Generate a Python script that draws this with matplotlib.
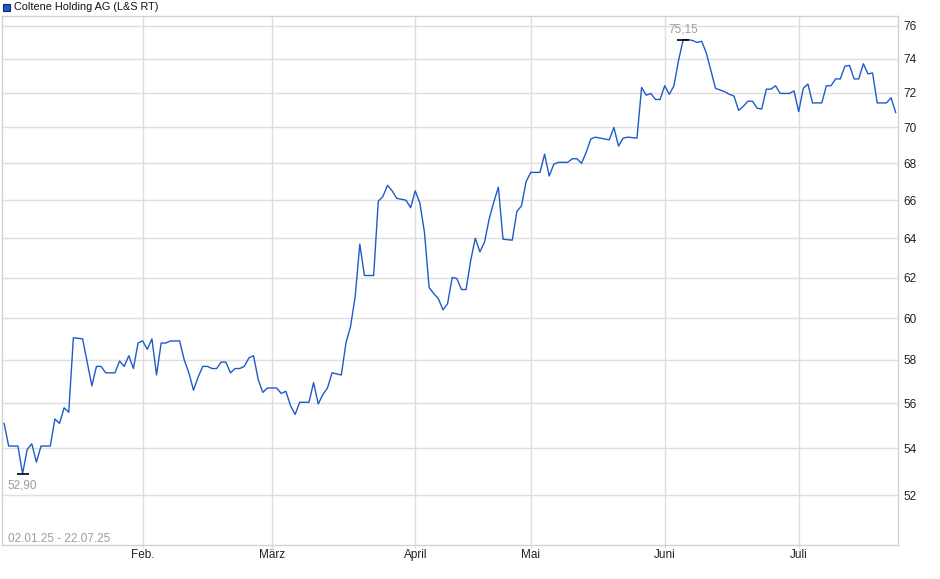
import matplotlib
matplotlib.use("Agg")
import matplotlib.pyplot as plt
from matplotlib.patches import Rectangle
from matplotlib.ticker import FixedLocator, FixedFormatter, NullLocator

# Data: trading session index -> price (EUR)
SESSION = [0, 1, 3, 4, 5, 6, 7, 8, 10, 11, 12, 13, 14, 15, 17, 19, 20, 21, 22, 24,
           25, 26, 27, 28, 29, 30, 31, 32, 33, 34, 35, 36, 38, 39, 40, 41, 42, 43, 44, 45,
           46, 47, 48, 49, 50, 51, 52, 53, 54, 55, 56, 57, 59, 60, 61, 62, 63, 64, 66, 67,
           68, 69, 70, 71, 73, 74, 75, 76, 77, 78, 80, 81, 82, 83, 84, 85, 87, 88, 89, 90,
           91, 92, 93, 94, 95, 96, 97, 98, 99, 100, 101, 102, 103, 104, 105, 106, 107, 108, 110, 111,
           112, 113, 114, 116, 117, 118, 119, 120, 122, 123, 124, 125, 126, 127, 128, 129, 131, 132, 133, 134,
           135, 137, 138, 139, 140, 141, 142, 143, 144, 145, 146, 147, 148, 149, 150, 151, 152, 153, 154, 155,
           156, 157, 158, 159, 160, 161, 162, 163, 164, 165, 166, 167, 168, 170, 171, 172, 173, 174, 175, 177,
           178, 179, 180, 181, 182, 183, 184, 185, 186, 187, 188, 189, 191, 192, 193]
PRICE = [55.10, 54.10, 54.10, 52.90, 53.95, 54.20, 53.40, 54.10, 54.10, 55.30,
         55.10, 55.80, 55.60, 59.05, 59.00, 56.80, 57.70, 57.70, 57.40, 57.40,
         57.95, 57.70, 58.20, 57.60, 58.80, 58.90, 58.50, 59.00, 57.30, 58.80,
         58.80, 58.90, 58.90, 58.00, 57.40, 56.60, 57.20, 57.70, 57.70, 57.60,
         57.60, 57.90, 57.90, 57.40, 57.60, 57.60, 57.70, 58.10, 58.20, 57.10,
         56.50, 56.70, 56.70, 56.45, 56.55, 55.90, 55.50, 56.05, 56.05, 56.95,
         55.97, 56.40, 56.70, 57.40, 57.30, 58.80, 59.60, 61.05, 63.70, 62.10,
         62.10, 65.95, 66.20, 66.80, 66.50, 66.10, 66.00, 65.60, 66.50, 65.85,
         64.30, 61.50, 61.20, 60.95, 60.40, 60.70, 62.00, 61.95, 61.40, 61.40,
         62.85, 64.00, 63.30, 63.80, 65.00, 65.90, 66.70, 63.95, 63.90, 65.40,
         65.70, 67.00, 67.50, 67.50, 68.50, 67.30, 67.95, 68.05, 68.05, 68.25,
         68.25, 68.00, 68.60, 69.35, 69.45, 69.40, 69.30, 70.00, 68.95, 69.40,
         69.45, 69.40, 72.30, 71.85, 71.95, 71.60, 71.60, 72.40, 71.90, 72.40,
         73.90, 75.15, 75.15, 75.10, 74.98, 75.05, 74.35, 73.30, 72.25, 72.15,
         72.05, 71.90, 71.80, 70.97, 71.20, 71.50, 71.50, 71.10, 71.05, 72.20,
         72.20, 72.40, 71.95, 71.95, 72.10, 70.90, 72.25, 72.50, 71.40, 71.40,
         72.40, 72.40, 72.80, 72.80, 73.55, 73.60, 72.80, 72.80, 73.70, 73.10,
         73.15, 71.40, 71.40, 71.70, 70.85]

MONTH_POS = [30, 58, 89, 114, 143, 172]
MONTH_LABELS = ["Feb.", "März", "April", "Mai", "Juni", "Juli"]
Y_TICKS = [52, 54, 56, 58, 60, 62, 64, 66, 68, 70, 72, 74, 76]

TITLE = "Coltene Holding AG (L&S RT)"
DATE_RANGE = "02.01.25 - 22.07.25"

LINE_COLOR = "#1f5bc8"
GRID_COLOR = "#dedede"
GRAY_TEXT = "#a09d96"

plt.rcParams["font.family"] = ["Liberation Sans", "DejaVu Sans"]

fig = plt.figure(figsize=(9.4, 5.79), dpi=100)
ax = fig.add_axes([2 / 940, 1 - 545 / 579, 896 / 940, 529 / 579])

ax.plot(SESSION, PRICE, color=LINE_COLOR, linewidth=1.0, zorder=3)

ax.set_yscale("log")
ax.set_ylim(49.94, 76.6)
ax.set_xlim(-0.45, 193.5)

ax.yaxis.set_major_locator(FixedLocator(Y_TICKS))
ax.yaxis.set_major_formatter(FixedFormatter([str(t) for t in Y_TICKS]))
ax.yaxis.set_minor_locator(NullLocator())
ax.yaxis.tick_right()
ax.tick_params(axis="y", length=0, pad=4, labelsize=8.5, colors="#222222")

ax.set_xticks(MONTH_POS)
ax.set_xticklabels(MONTH_LABELS)
ax.tick_params(axis="x", length=2, color=GRID_COLOR, pad=1, labelsize=8.5, labelcolor="#222222")

ax.grid(True, color=GRID_COLOR, linewidth=1.0, zorder=0)
for sp in ax.spines.values():
    sp.set_color("#d2d2d2")
    sp.set_linewidth(1.0)

# min / max markers
i_max = PRICE.index(max(PRICE))
i_min = PRICE.index(min(PRICE))
for i, dy, va in [(i_max, 3, "bottom"), (i_min, -4, "top")]:
    ax.plot(SESSION[i], PRICE[i], marker="_", markersize=9, color="black",
            markeredgewidth=1.2, zorder=4)
    ax.annotate(f"{PRICE[i]:.2f}".replace(".", ","), (SESSION[i], PRICE[i]),
                xytext=(0, dy), textcoords="offset points", ha="center", va=va,
                fontsize=8.5, color=GRAY_TEXT)

ax.text(0.007, 0.0, DATE_RANGE, transform=ax.transAxes, fontsize=8.5,
        color=GRAY_TEXT, ha="left", va="bottom")

# legend box at the top left
fig.add_artist(Rectangle((3 / 940, 1 - 11 / 579), 7 / 940, 7 / 579,
                         transform=fig.transFigure, facecolor=LINE_COLOR,
                         edgecolor="#0a2a6a", linewidth=0.8))
fig.text(14 / 940, 1 - 7 / 579, TITLE, fontsize=7.8, color="#111111",
         ha="left", va="center")

fig.savefig("out.png", dpi=100)
